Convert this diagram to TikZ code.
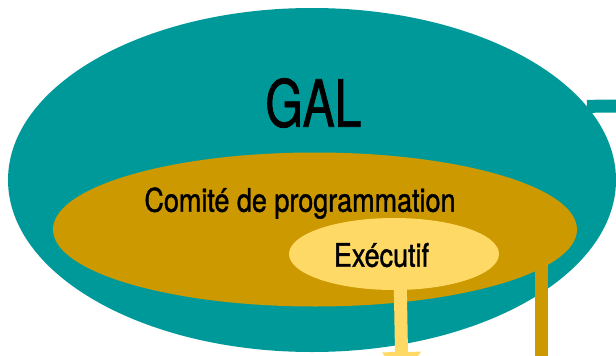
\documentclass[tikz,border=0pt]{standalone}
\usepackage{fontspec}
\setmainfont{TeX Gyre Heros}
\newfontfamily\galfont{TeX Gyre Heros}[FakeStretch=0.74,FakeBold=1]
\newfontfamily\cmtfont{TeX Gyre Heros}[FakeStretch=0.83,FakeBold=1.2]
\usetikzlibrary{calc}
\usetikzlibrary{shapes.geometric,arrows.meta}
\definecolor{galteal}{HTML}{009999}
\definecolor{cmtgold}{HTML}{CC9900}
\definecolor{execyellow}{HTML}{FFD966}

\begin{document}
\begin{tikzpicture}
% units are the pixels of the sheet, y runs down
[
    x=1pt,y=-1pt,
    blob/.style={ellipse,inner sep=0pt,draw=none},
    bar/.style={line width=13pt},
    lbl/.style={anchor=base,inner sep=0pt,text=black}
]
\useasboundingbox (0,0) rectangle (616,356);

% ellipses
\node[blob,fill=galteal,minimum width=608pt,minimum height=344pt] (gal) at (312,180) {};
\node[blob,fill=cmtgold,minimum width=524pt,minimum height=154pt] (cmt) at (315,229.5) {};
\node[blob,fill=execyellow,minimum width=210pt,minimum height=72pt] (exec) at (394,254) {};

% links going out of the sheet
\coordinate (galout) at (620,106);
\coordinate (cmtout) at (541.5,360);
\coordinate (execout) at (402,380);
\draw[bar,galteal] (gal.15) -- (galout);
\draw[bar,cmtgold] (cmtout |- cmt.center) -- (cmtout);
\draw[bar,execyellow,shorten <=-4pt,-{Triangle[width=37pt,length=28pt]}] (exec.-80) -- (execout);

% labels
\node[lbl,font=\galfont\fontsize{65}{65}\selectfont] (galtext) at (313.4,126.7) {GAL};
\node[lbl,font=\cmtfont\fontsize{32.5}{32.5}\selectfont] (cmttext) at (300,211.7) {Comité de programmation};
\node[lbl,font=\cmtfont\fontsize{32.5}{32.5}\selectfont] (exectext) at (381.5,266.7) {Exécutif};
\end{tikzpicture}
\end{document}
